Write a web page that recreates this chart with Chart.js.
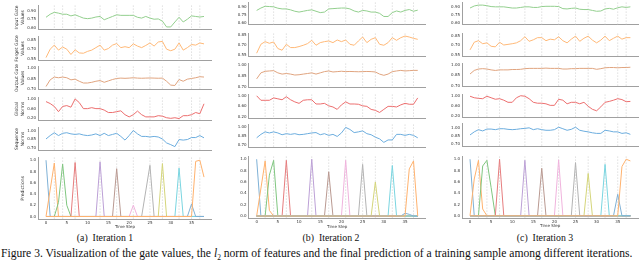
<!DOCTYPE html>
<html><head><meta charset="utf-8">
<script src="https://cdn.jsdelivr.net/npm/chart.js@4.4.0/dist/chart.umd.min.js"></script>
<style>
html,body{margin:0;padding:0;background:#fff;}
body{width:640px;height:260px;overflow:hidden;position:relative;}
canvas{position:absolute;}
.cap{position:absolute;font-family:"Liberation Serif","Times New Roman",serif;color:#111;white-space:nowrap;}
</style></head><body>
<div class="cap" style="left:105px;top:233px;font-size:9.8px;line-height:9.8px;transform:translateX(-50%);">(a)&nbsp; Iteration 1</div>
<div class="cap" style="left:331px;top:233px;font-size:9.8px;line-height:9.8px;transform:translateX(-50%);">(b)&nbsp; Iteration 2</div>
<div class="cap" style="left:545px;top:233px;font-size:9.8px;line-height:9.8px;transform:translateX(-50%);">(c)&nbsp; Iteration 3</div>
<div class="cap" style="left:1px;top:248.3px;font-size:11.6px;line-height:11.6px;">Figure 3. Visualization of the gate values, the <i>l</i><sub style="font-size:7.5px;line-height:0;">2</sub> norm of features and the final prediction of a training sample among different iterations.</div>
<script>
// ---------------- DATA ----------------
const steps = [0,1,2,3,4,5,6,7,8,9,10,11,12,13,14,15,16,17,18,19,20,21,22,23,24,25,26,27,28,29,30,31,32,33,34,35,36,37,38];
const gridSteps = [2,4,7,13,17,21,25,28,32,35,37];
const xTickVals = [0,5,10,15,20,25,30,35];
const xTickLabels = ["0","5","10","15","20","25","30","35"];
const rowTitles = [["Input Gate","Values"],["Forget Gate","Values"],["Output Gate","Values"],["Global","Norms"],["Sequence","Norms"],"Predictions"];
const yTickVals = [[0.60,0.75,0.90],[0.55,0.70,0.85],[0.70,0.85,1.00],[0.20,0.60,1.00],[0.70,0.85,1.00],[0.0,0.2,0.4,0.6,0.8,1.0]];
const yTickLabels = [["0.60","0.75","0.90"],["0.55","0.70","0.85"],["0.70","0.85","1.00"],["0.20","0.60","1.00"],["0.70","0.85","1.00"],["0.0","0.2","0.4","0.6","0.8","1.0"]];

// Iteration 1
const inputGateA = [0.785,0.84,0.875,0.86,0.84,0.84,0.81,0.83,0.80,0.77,0.76,0.77,0.79,0.80,0.74,0.77,0.80,0.83,0.82,0.82,0.82,0.82,0.785,0.77,0.80,0.77,0.75,0.755,0.715,0.61,0.61,0.70,0.785,0.70,0.75,0.81,0.80,0.79,0.80];
const forgetGateA = [0.565,0.70,0.765,0.685,0.735,0.70,0.615,0.69,0.64,0.635,0.665,0.685,0.725,0.765,0.685,0.71,0.765,0.79,0.725,0.74,0.725,0.785,0.75,0.725,0.76,0.80,0.75,0.815,0.825,0.70,0.675,0.70,0.80,0.685,0.725,0.775,0.765,0.80,0.785];
const outputGateA = [0.735,0.83,0.87,0.86,0.87,0.86,0.83,0.84,0.81,0.785,0.785,0.795,0.81,0.82,0.795,0.815,0.835,0.85,0.855,0.852,0.855,0.86,0.855,0.853,0.855,0.857,0.855,0.853,0.855,0.81,0.755,0.75,0.835,0.81,0.84,0.85,0.86,0.875,0.87];
const globalNormA = [0.89,0.81,0.69,0.475,0.69,0.725,0.66,1.0,0.85,0.60,0.60,0.64,0.60,0.60,0.54,0.44,0.44,0.475,0.51,0.35,0.26,0.35,0.50,0.35,0.26,0.26,0.26,0.31,0.29,0.225,0.20,0.225,0.19,0.31,0.31,0.35,0.44,0.39,0.80];
const seqNormA = [0.85,0.91,0.96,0.91,0.95,0.96,0.94,0.93,0.94,0.92,0.91,0.92,0.94,0.91,0.95,0.91,0.93,0.95,0.895,0.83,0.91,1.00,0.94,0.895,0.895,0.885,0.895,0.885,0.85,0.78,0.75,0.715,0.84,0.83,0.84,0.875,0.875,0.91,0.87];
const predA = [
  [[0,1.0],[1,0],[38,0]],
  [[0,0],[2,0.95],[3,0],[38,0]],
  [[0,0],[2,0],[3,0.25],[4,0.93],[5,0.2],[6,0],[38,0]],
  [[0,0],[6,0],[7,0.96],[8,0],[38,0]],
  [[0,0],[12,0],[13,0.97],[14,0],[38,0]],
  [[0,0],[16,0],[17,0.85],[18,0],[38,0]],
  [[0,0],[20,0],[21,0.2],[22,0],[38,0]],
  [[0,0],[23,0],[25,0.91],[26,0],[38,0]],
  [[0,0],[27,0],[28,0.94],[29,0],[38,0]],
  [[0,0],[31,0],[32,0.86],[33,0],[38,0]],
  [[0,0],[34,0],[35,0.22],[36,0],[38,0]],
  [[0,0],[35,0],[36,0.98],[37,1.0],[38,0.7]]
];

// Iteration 2
const inputGateB = [0.83,0.873,0.905,0.90,0.895,0.87,0.857,0.857,0.84,0.815,0.80,0.815,0.83,0.84,0.815,0.79,0.80,0.857,0.862,0.868,0.873,0.873,0.857,0.82,0.80,0.83,0.82,0.80,0.80,0.777,0.72,0.72,0.79,0.82,0.80,0.83,0.846,0.815,0.835];
const forgetGateB = [0.58,0.715,0.755,0.73,0.75,0.65,0.625,0.715,0.665,0.665,0.68,0.70,0.725,0.775,0.70,0.74,0.755,0.765,0.74,0.78,0.755,0.78,0.715,0.70,0.765,0.825,0.74,0.79,0.815,0.715,0.70,0.74,0.815,0.775,0.815,0.84,0.825,0.805,0.79];
const outputGateB = [0.81,0.893,0.914,0.919,0.923,0.893,0.876,0.884,0.876,0.863,0.867,0.876,0.884,0.893,0.876,0.893,0.91,0.919,0.905,0.91,0.915,0.91,0.912,0.91,0.908,0.91,0.912,0.91,0.905,0.876,0.859,0.876,0.91,0.919,0.927,0.919,0.923,0.927,0.927];
const globalNormB = [1.0,0.83,0.83,0.83,0.92,0.886,0.85,0.966,0.85,0.77,0.714,0.83,0.85,0.85,0.69,0.69,0.714,0.62,0.577,0.486,0.657,0.77,0.69,0.69,0.68,0.62,0.60,0.486,0.45,0.37,0.486,0.60,0.60,0.577,0.657,0.714,0.68,0.68,0.92];
const seqNormB = [0.824,0.882,0.924,0.906,0.924,0.906,0.876,0.894,0.882,0.894,0.876,0.882,0.894,0.906,0.912,0.876,0.894,0.865,0.882,0.847,0.906,1.0,0.965,0.912,0.924,0.941,0.894,0.876,0.835,0.806,0.747,0.788,0.788,0.882,0.882,0.865,0.882,0.865,0.824];
const predB = [
  [[0,1.0],[1,0],[38,0]],
  [[0,0],[2,0.97],[3,0.1],[4,0],[38,0]],
  [[0,0],[2,0],[3,0.72],[4,0.98],[5,0],[38,0]],
  [[0,0],[6,0],[7,0.98],[8,0],[38,0]],
  [[0,0],[12,0],[13,1.0],[14,0],[38,0]],
  [[0,0],[16,0],[17,0.78],[18,0],[38,0]],
  [[0,0],[20,0],[21,0.98],[22,0],[38,0]],
  [[0,0],[24,0],[25,0.91],[26,0],[38,0]],
  [[0,0],[27,0],[28,0.6],[29,0],[38,0]],
  [[0,0],[31,0],[32,0.89],[33,0],[38,0]],
  [[0,0],[34,0],[35,0.05],[36,0.03],[37,0],[38,0]],
  [[0,0],[35,0],[36,0.83],[37,0.97],[38,0]]
];

// Iteration 3
const inputGateC = [0.873,0.911,0.927,0.927,0.916,0.90,0.895,0.895,0.895,0.884,0.873,0.873,0.884,0.895,0.895,0.884,0.884,0.90,0.905,0.905,0.905,0.90,0.862,0.856,0.867,0.873,0.851,0.845,0.845,0.829,0.813,0.818,0.856,0.867,0.851,0.878,0.895,0.884,0.895];
const forgetGateC = [0.623,0.744,0.768,0.72,0.734,0.68,0.671,0.744,0.70,0.71,0.72,0.734,0.768,0.83,0.758,0.782,0.816,0.816,0.768,0.792,0.782,0.83,0.768,0.734,0.792,0.84,0.758,0.806,0.84,0.777,0.734,0.777,0.84,0.768,0.806,0.84,0.792,0.816,0.816];
const outputGateC = [0.867,0.917,0.937,0.942,0.937,0.925,0.917,0.925,0.925,0.925,0.93,0.93,0.933,0.942,0.946,0.946,0.946,0.946,0.95,0.946,0.946,0.946,0.937,0.937,0.942,0.942,0.946,0.946,0.946,0.946,0.933,0.942,0.954,0.958,0.958,0.954,0.958,0.958,0.962];
const globalNormC = [1.0,0.938,0.914,0.90,1.0,0.938,0.877,0.90,0.84,0.754,0.754,0.938,1.02,1.0,0.90,0.754,0.717,0.717,0.692,0.63,0.63,0.877,0.84,0.692,0.754,0.754,0.692,0.754,0.594,0.47,0.41,0.57,0.754,0.79,0.84,0.90,0.865,0.778,0.79];
const seqNormC = [0.87,0.926,0.966,0.943,0.977,0.977,0.966,0.983,0.983,0.972,0.966,0.972,0.983,0.989,1.0,0.966,0.983,0.966,0.955,0.955,0.966,1.011,0.983,0.955,0.972,1.011,0.955,0.938,0.926,0.909,0.898,0.898,0.955,0.943,0.926,0.926,0.898,0.909,0.881];
const predC = [
  [[0,1.0],[1,0],[38,0]],
  [[0,0],[1,0.65],[2,0.98],[3,0.12],[4,0],[38,0]],
  [[0,0],[2,0],[3,0.88],[4,0.98],[5,0.5],[6,0],[38,0]],
  [[0,0],[6,0],[7,1.0],[8,0],[38,0]],
  [[0,0],[12,0],[13,0.98],[14,0],[38,0]],
  [[0,0],[16,0],[17,0.84],[18,0],[38,0]],
  [[0,0],[20,0],[21,0.99],[22,0],[38,0]],
  [[0,0],[24,0],[25,0.94],[26,0],[38,0]],
  [[0,0],[27,0],[28,0.75],[29,0],[38,0]],
  [[0,0],[31,0],[32,0.91],[33,0],[38,0]],
  [[0,0],[34,0],[35,0.38],[36,0],[38,0]],
  [[0,0],[35,0],[36,0.87],[37,1.0],[38,0.97]]
];

// ---------------- STYLE / LAYOUT ----------------
const GATE_COLORS = ['#93cf8e','#ffb978','#e0a47f','#ec6f6f','#6cadde'];
const PRED_COLORS = ['#7fb1d6','#ffb26e','#80c680','#e67d7e','#bca0d6','#b99991','#f0b3dd','#b3b3b3','#d4d57a','#7ad5e0','#7fb1d6','#ffb26e'];
const FONT = 'DejaVu Sans';
const SPINE = '#a0a0a0';
const TICK = '#333';

const columns = [
  {gates:[inputGateA,forgetGateA,outputGateA,globalNormA,seqNormA], pred:predA},
  {gates:[inputGateB,forgetGateB,outputGateB,globalNormB,seqNormB], pred:predB},
  {gates:[inputGateC,forgetGateC,outputGateC,globalNormC,seqNormC], pred:predC}
];
const LAYOUT = [
  {left:38.1,right:211.9,canvasLeft:13,titles:true,
   rows:[[4,30.3],[35,61.2],[65.5,90.7],[96,121.7],[126,151.2],[156.8,219.3]],
   yr:[[0.562,1.0],[0.517,0.905],[0.691,1.022],[0.107,1.063],[0.645,1.054],[-0.05,1.05]]},
  {left:248.6,right:425.8,canvasLeft:228,titles:false,
   rows:[[1,26],[32,57.3],[62.5,88.5],[93.5,119.5],[123.5,148.3],[155.4,218.9]],
   yr:[[0.573,0.975],[0.528,0.88],[0.69,1.023],[0.137,1.053],[0.659,1.05],[-0.05,1.05]]},
  {left:462,right:638.4,canvasLeft:442,titles:false,
   rows:[[1,26],[32,57.3],[62,88],[93,118.5],[122.5,147.5],[155.3,218.6]],
   yr:[[0.567,0.977],[0.517,0.883],[0.69,1.016],[0.134,1.074],[0.658,1.08],[-0.05,1.05]]}
];

const vlinePlugin = {
  id:'vlines',
  beforeDatasetsDraw(chart){
    const {ctx, chartArea:a, scales:{x}} = chart;
    ctx.save();
    ctx.strokeStyle = '#c9c9c9';
    ctx.lineWidth = 0.6;
    ctx.setLineDash([1.5,1.5]);
    for (const v of gridSteps){
      const px = x.getPixelForValue(v);
      ctx.beginPath(); ctx.moveTo(px,a.top); ctx.lineTo(px,a.bottom); ctx.stroke();
    }
    ctx.restore();
  }
};

function makeChart(ci, r, datasets){
  const L = LAYOUT[ci];
  const [top,bottom] = L.rows[r];
  const isBottom = r === 5;
  const chartH = bottom - top;
  const T = Math.floor(top) - 3;
  const padTop = top - T;
  const xH = isBottom ? 10 : 3;
  const H = Math.ceil(padTop + chartH + xH);
  const padBottom = H - (padTop + chartH + xH);
  const yW = L.left - L.canvasLeft;
  const W = Math.ceil(L.right - L.canvasLeft + 1);
  const padRight = W - (L.right - L.canvasLeft);
  const cv = document.createElement('canvas');
  cv.width = W; cv.height = H;
  cv.style.left = L.canvasLeft + 'px'; cv.style.top = T + 'px';
  cv.style.width = W + 'px'; cv.style.height = H + 'px';
  document.body.appendChild(cv);
  const title = L.titles ? rowTitles[r] : '';
  const titlePad = Array.isArray(title) ? 0.85 : 7.15;
  new Chart(cv, {
    type:'line',
    data:{datasets},
    options:{
      responsive:false, animation:false, devicePixelRatio:1,
      layout:{padding:{top:padTop,right:padRight,bottom:padBottom,left:0}},
      plugins:{legend:{display:false},tooltip:{enabled:false}},
      elements:{point:{radius:0},line:{tension:0,borderWidth:1}},
      scales:{
        x:{type:'linear',min:-1.9,max:39.9,
          afterFit:s=>{s.height = xH;},
          afterBuildTicks:s=>{s.ticks = xTickVals.map(v=>({value:v}));},
          grid:{display:false,drawTicks:false},
          border:{display:true,color:SPINE,width:1},
          ticks:{display:isBottom,autoSkip:false,maxRotation:0,padding:1,font:{family:FONT,size:4},color:TICK,
                 callback:(v,i)=>xTickLabels[i]},
          title:{display:isBottom,text:'Time Step',padding:0,font:{family:FONT,size:4},color:TICK}
        },
        y:{type:'linear',min:L.yr[r][0],max:L.yr[r][1],
          afterFit:s=>{s.width = yW;},
          afterBuildTicks:s=>{s.ticks = yTickVals[r].map(v=>({value:v}));},
          grid:{display:false,drawTicks:false},
          border:{display:true,color:SPINE,width:1},
          ticks:{autoSkip:false,padding:2,font:{family:FONT,size:4},color:TICK,
                 callback:(v,i)=>yTickLabels[r][i]},
          title:{display:!!title,text:title,padding:{top:titlePad,bottom:0},
                 font:{family:FONT,size:4.5,lineHeight:1.4},color:'#333'}
        }
      }
    },
    plugins:[vlinePlugin]
  });
}

columns.forEach((col,ci)=>{
  col.gates.forEach((arr,r)=>{
    makeChart(ci, r, [{
      data: arr.map((v,i)=>({x:steps[i], y:v})),
      borderColor: GATE_COLORS[r], borderWidth:1, pointRadius:0, fill:false
    }]);
  });
  makeChart(ci, 5, col.pred.map((pts,k)=>({
    data: pts.map(([x,y])=>({x,y})),
    borderColor: PRED_COLORS[k], borderWidth:1, pointRadius:0, fill:false, order:-k
  })));
});
</script>
</body></html>
